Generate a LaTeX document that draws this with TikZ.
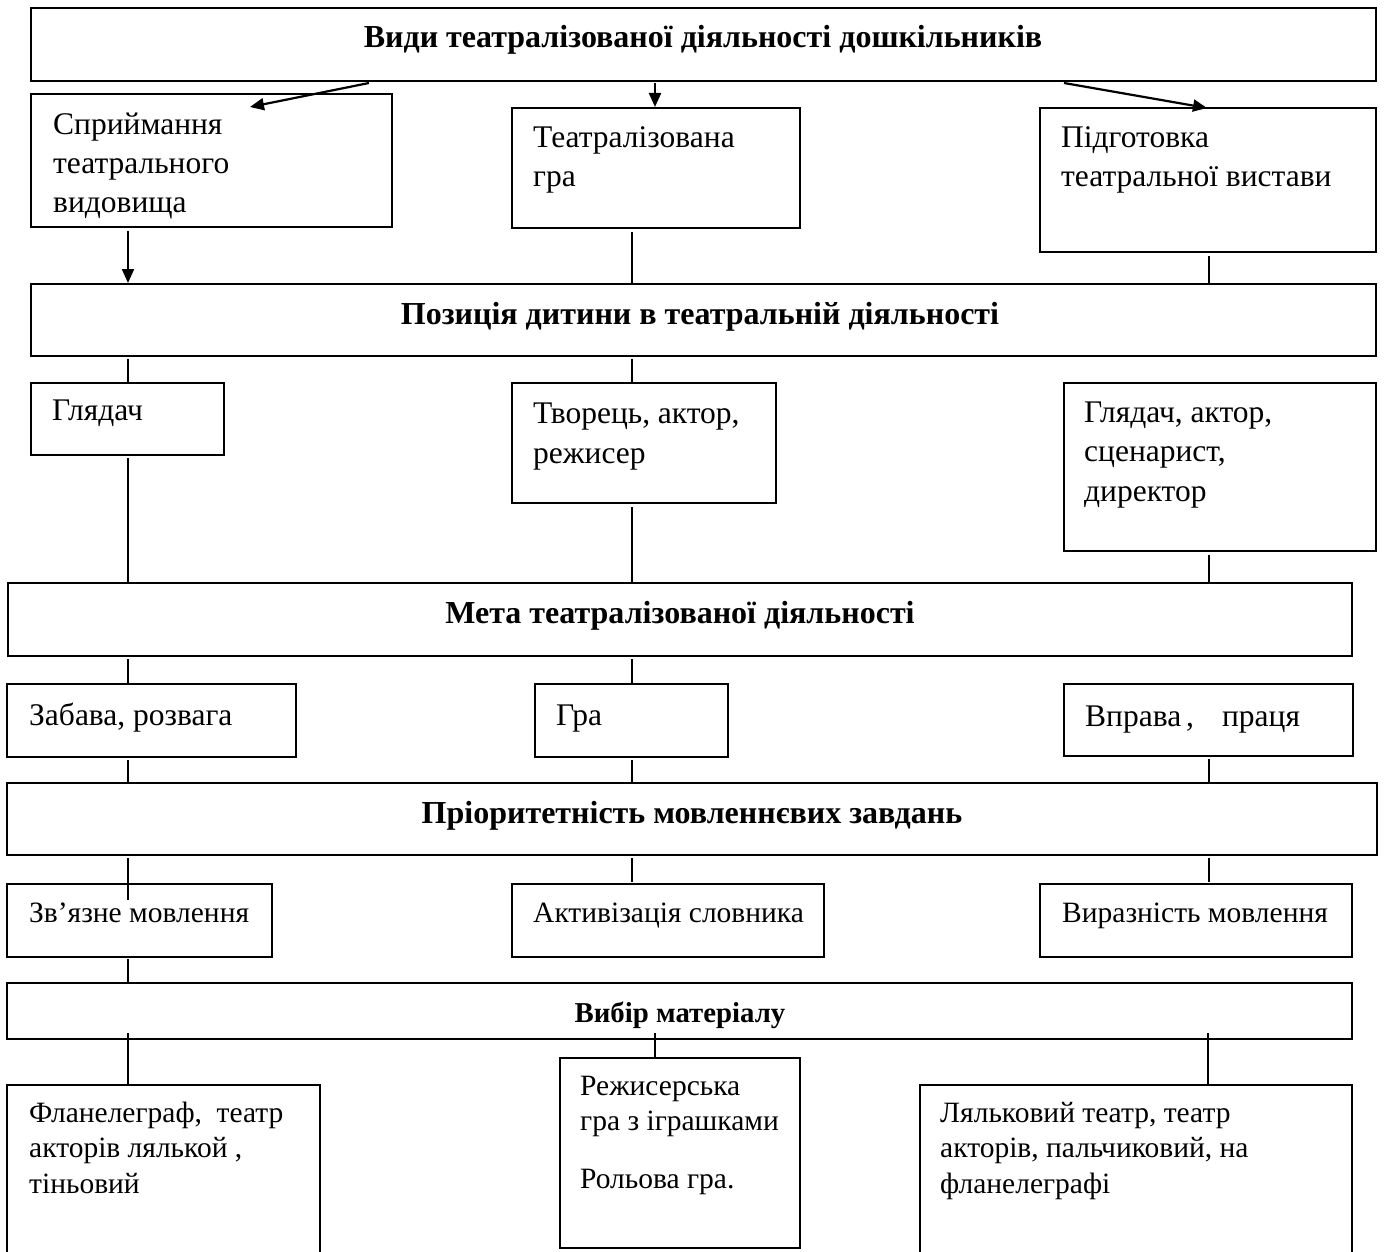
\documentclass[tikz,border=0pt]{standalone}
\usepackage{fontspec}
\setmainfont{Liberation Serif}
\usetikzlibrary{arrows.meta}
\newcommand\mltext[2]{\vtop{\baselineskip=#1pt\lineskiplimit=-100pt\lineskip=0pt #2}}
\tikzset{
  box/.style 2 args={draw, line width=2pt, inner sep=0pt, outer sep=0pt, anchor=north west,
    minimum width=#1pt, minimum height=#2pt},
  openbox/.style 2 args={inner sep=0pt, outer sep=0pt, anchor=north west,
    minimum width=#1pt, minimum height=#2pt},
  txt/.style={inner sep=0pt, anchor=base west, font=\fontsize{31.5}{39}\selectfont},
  smalltxt/.style={inner sep=0pt, anchor=base west, font=\fontsize{29.5}{35.5}\selectfont},
  head/.style={inner sep=0pt, anchor=base, font=\fontsize{32}{38}\selectfont\bfseries},
  link/.style={line width=1.5pt},
  arr/.style={line width=2.2pt, -{Triangle[length=14pt,width=12pt]}},
}
\begin{document}
\begin{tikzpicture}[x=1pt,y=-1pt]
\useasboundingbox (0,0) rectangle (1384,1252);
% column coordinates
\coordinate (cL) at (128,0);
\coordinate (cM) at (632,0);
\coordinate (cR) at (1209,0);
\coordinate (cN) at (655,0);
\coordinate (cO) at (1208,0);
\coordinate (a1s) at (369,0);
\coordinate (a1e) at (250,0);
\coordinate (a3s) at (1064,0);
\coordinate (a3e) at (1207,0);

% row 1
\node[box={1345}{73}] (T) at (31,8) {};
\node[head] (tT) at (703,48) {Види театралізованої діяльності дошкільників};

% row 2
\node[box={361}{133}] (A) at (31,94) {};
\node[txt] (tA) at (53,135) {\mltext{39}{\hbox{Сприймання}\hbox{театрального}\hbox{видовища}}};
\node[box={288}{120}] (B) at (512,108) {};
\node[txt] (tB) at (533,148) {\mltext{39}{\hbox{Театралізована}\hbox{гра}}};
\node[box={336}{144}] (C) at (1040,108) {};
\node[txt] (tC) at (1061,148) {\mltext{39}{\hbox{Підготовка}\hbox{театральної вистави}}};

\draw[arr] ([yshift=-2pt]T.south -| a1s) -- ([yshift=-13pt]A.north -| a1e);
\draw[arr] ([yshift=-2pt]T.south -| cN) -- ([yshift=1pt]B.north -| cN);
\draw[arr] ([yshift=-2pt]T.south -| a3s) -- ([yshift=0pt]C.north -| a3e);

% row 3
\node[box={1345}{72}] (P) at (31,284) {};
\node[head] (tP) at (700,324) {Позиція дитини в театральній діяльності};

\draw[arr] ([yshift=-4pt]A.south -| cL) -- ([yshift=1pt]P.north -| cL);
\draw[link] ([yshift=-4pt]B.south -| cM) -- (P.north -| cM);
\draw[link] ([yshift=-4pt]C.south -| cR) -- (P.north -| cR);

% row 4
\node[box={193}{72}] (D) at (31,383) {};
\node[txt] (tD) at (52,420) {Глядач};
\node[box={264}{120}] (E) at (512,383) {};
\node[txt] (tE) at (533,423) {\mltext{40}{\hbox{Творець, актор,}\hbox{режисер}}};
\node[box={312}{168}] (F) at (1064,383) {};
\node[txt] (tF) at (1084,422) {\mltext{39.5}{\hbox{Глядач, актор,}\hbox{сценарист,}\hbox{директор}}};

\draw[link] ([yshift=-3pt]P.south -| cL) -- ([yshift=1pt]D.north -| cL);
\draw[link] ([yshift=-3pt]P.south -| cM) -- ([yshift=1pt]E.north -| cM);

% row 5
\node[box={1344}{73}] (M) at (8,583) {};
\node[head] (tM) at (680,623) {Мета театралізованої діяльності};

\draw[link] ([yshift=-3pt]D.south -| cL) -- (M.north -| cL);
\draw[link] ([yshift=-4pt]E.south -| cM) -- (M.north -| cM);
\draw[link] ([yshift=-4pt]F.south -| cR) -- (M.north -| cR);

% row 6
\node[box={289}{73}] (G) at (7,684) {};
\node[txt] (tG) at (29,725) {Забава, розвага};
\node[box={193}{73}] (H) at (535,684) {};
\node[txt] (tH) at (556,725) {Гра};
\node[box={289}{72}] (I) at (1064,684) {};
\node[txt] (tI) at (1085,726) {Вправа\hspace{5pt},\hspace{28pt}праця};

\draw[link] ([yshift=-3pt]M.south -| cL) -- (G.north -| cL);
\draw[link] ([yshift=-3pt]M.south -| cM) -- (H.north -| cM);

% row 7
\node[box={1370}{72}] (R) at (7,783) {};
\node[head] (tR) at (692,823) {Пріоритетність мовленнєвих завдань};

\draw[link] ([yshift=-3pt]G.south -| cL) -- (R.north -| cL);
\draw[link] ([yshift=-3pt]H.south -| cM) -- (R.north -| cM);
\draw[link] ([yshift=-3pt]I.south -| cR) -- (R.north -| cR);

% row 8
\node[box={265}{73}] (J) at (7,884) {};
\node[smalltxt] (tJ) at (29,922) {Зв’язне мовлення};
\node[box={312}{73}] (K) at (512,884) {};
\node[smalltxt] (tK) at (533,922) {Активізація словника};
\node[box={312}{73}] (L) at (1040,884) {};
\node[smalltxt] (tL) at (1062,922) {Виразність мовлення};

\draw[link] ([yshift=-3pt]R.south -| cL) -- ([yshift=-16pt]J.north -| cL);
\draw[link] ([yshift=-3pt]R.south -| cM) -- ([yshift=2pt]K.north -| cM);
\draw[link] ([yshift=-3pt]R.south -| cR) -- ([yshift=2pt]L.north -| cR);

% row 9
\node[box={1345}{56}] (V) at (7,983) {};
\node[head, font=\fontsize{28.8}{34}\selectfont\bfseries] (tV) at (680,1022) {Вибір матеріалу};

\draw[link] ([yshift=-2pt]J.south -| cL) -- (V.north -| cL);

% row 10
\node[openbox={313}{167}] (O1) at (7,1085) {};
\draw[line width=2pt] (O1.south west) -- (O1.north west) -- (O1.north east) -- (O1.south east);
\node[smalltxt] (tO1) at (29,1122) {\mltext{35.5}{\hbox{Фланелеграф,\ \ театр}\hbox{акторів лялькой ,}\hbox{тіньовий}}};
\node[box={240}{190}] (N) at (560,1058) {};
\node[smalltxt] (tN) at (580,1095) {\mltext{35.5}{\hbox{Режисерська}\hbox{гра з іграшками}\vskip 22.5pt\hbox{Рольова гра.}}};
\node[openbox={432}{167}] (O2) at (920,1085) {};
\draw[line width=2pt] (O2.south west) -- (O2.north west) -- (O2.north east) -- (O2.south east);
\node[smalltxt] (tO2) at (940,1122) {\mltext{35.5}{\hbox{Ляльковий театр, театр}\hbox{акторів, пальчиковий, на}\hbox{фланелеграфі}}};

\draw[link] ([yshift=6pt]V.south -| cL) -- ([yshift=1pt]O1.north -| cL);
\draw[link] ([yshift=6pt]V.south -| cN) -- ([yshift=1pt]N.north -| cN);
\draw[link] ([yshift=6pt]V.south -| cO) -- ([yshift=1pt]O2.north -| cO);
\end{tikzpicture}
\end{document}
